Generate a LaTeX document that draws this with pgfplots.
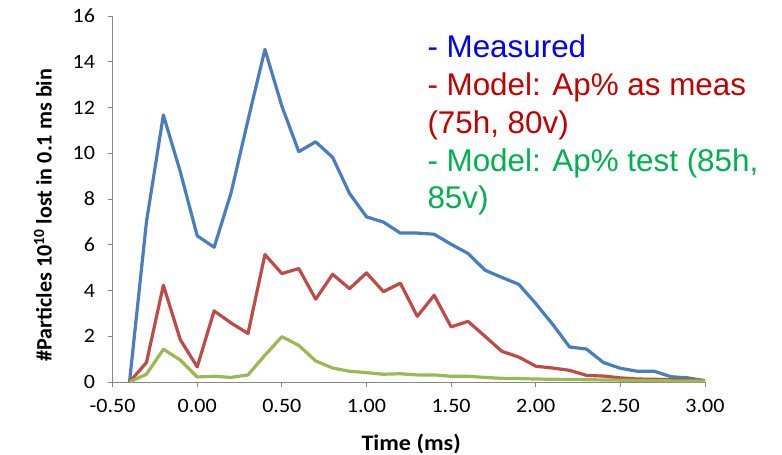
\documentclass[border=0pt]{standalone}
\usepackage{fontspec}
\setmainfont{Carlito}
\newfontfamily\ticksfont[FakeStretch=1.08]{Carlito}
\newfontfamily\xlabfont[FakeStretch=1.09]{Carlito}
\newfontfamily\arialfont{Liberation Sans}
\usepackage{pgfplots}
\pgfplotsset{compat=1.18}
\definecolor{serblue}{HTML}{4A7EBB}
\definecolor{serred}{HTML}{BE4B48}
\definecolor{sergreen}{HTML}{98B954}
\definecolor{axisgray}{HTML}{868686}
\definecolor{txtblue}{HTML}{0000FF}
\definecolor{txtred}{HTML}{C00000}
\definecolor{txtgreen}{HTML}{00B050}
\begin{document}
\begin{tikzpicture}
\useasboundingbox (-112.6bp,-73bp) rectangle (669.4bp,382bp);
\begin{axis}[
  at={(0,0)}, anchor=south west, scale only axis,
  width=592.4bp, height=366bp,
  xmin=-0.5, xmax=3, ymin=0, ymax=16,
  axis x line*=bottom, axis y line*=left,
  axis line style={draw=axisgray, line width=0.8bp},
  xtick={-0.5,0,0.5,1,1.5,2,2.5,3},
  xticklabels={-0.50,0.00,0.50,1.00,1.50,2.00,2.50,3.00},
  ytick={0,2,4,6,8,10,12,14,16},
  yticklabels={0,2,4,6,8,10,12,14,16},
  tick align=outside, major tick length=5bp,
  tick style={draw=axisgray, line width=0.8bp},
  ticklabel style={font=\ticksfont\fontsize{20.5}{24}\selectfont, text=black},
  xticklabel style={yshift=-9bp},
  yticklabel style={xshift=-9bp},
  xlabel={Time (ms)},
  ylabel={\#Particles 10\textsuperscript{10} lost in 0.1 ms bin},
  xlabel style={font=\xlabfont\bfseries\fontsize{22.2}{26}\selectfont, at={(axis description cs:0.504,-0.186)}, anchor=base},
  ylabel style={font=\bfseries\fontsize{22.2}{26}\selectfont, at={(axis description cs:-0.1031,0.456)}, anchor=base},
  clip=false,
  every axis plot/.append style={line width=3.2bp, line join=round, mark=none},
]
\addplot[serblue] coordinates {
(-0.4,0) (-0.3,7.0) (-0.2,11.67) (-0.1,9.19) (0.0,6.39) (0.1,5.89) (0.2,8.27) (0.3,11.45) (0.4,14.54) (0.5,12.06)
(0.6,10.07) (0.7,10.50) (0.8,9.82) (0.9,8.24) (1.0,7.22) (1.1,6.99) (1.2,6.51) (1.3,6.51) (1.4,6.46) (1.5,6.02)
(1.6,5.62) (1.7,4.89) (1.8,4.57) (1.9,4.27) (2.0,3.43) (2.1,2.52) (2.2,1.53) (2.3,1.44) (2.4,0.85) (2.5,0.60)
(2.6,0.47) (2.7,0.47) (2.8,0.23) (2.9,0.18) (3.0,0.05)};
\addplot[serred] coordinates {
(-0.4,0) (-0.3,0.85) (-0.2,4.23) (-0.1,1.85) (0.0,0.66) (0.1,3.11) (0.2,2.58) (0.3,2.12) (0.4,5.57) (0.5,4.74)
(0.6,4.96) (0.7,3.62) (0.8,4.71) (0.9,4.08) (1.0,4.77) (1.1,3.95) (1.2,4.32) (1.3,2.87) (1.4,3.79) (1.5,2.41)
(1.6,2.65) (1.7,2.0) (1.8,1.34) (1.9,1.09) (2.0,0.69) (2.1,0.61) (2.2,0.51) (2.3,0.29) (2.4,0.26) (2.5,0.18)
(2.6,0.13) (2.7,0.12) (2.8,0.10) (2.9,0.09) (3.0,0.07)};
\addplot[sergreen] coordinates {
(-0.4,0) (-0.3,0.34) (-0.2,1.43) (-0.1,0.96) (0.0,0.22) (0.1,0.25) (0.2,0.20) (0.3,0.31) (0.4,1.17) (0.5,1.98)
(0.6,1.60) (0.7,0.92) (0.8,0.61) (0.9,0.47) (1.0,0.41) (1.1,0.34) (1.2,0.36) (1.3,0.31) (1.4,0.31) (1.5,0.25)
(1.6,0.25) (1.7,0.20) (1.8,0.16) (1.9,0.15) (2.0,0.13) (2.1,0.12) (2.2,0.11) (2.3,0.10) (2.4,0.09) (2.5,0.08)
(2.6,0.07) (2.7,0.06) (2.8,0.05) (2.9,0.04) (3.0,0.04)};
\end{axis}
\begin{scope}[every node/.style={anchor=base west, inner sep=0pt, font=\arialfont\fontsize{31.5}{38}\selectfont}]
\node[text=txtblue] at (314.7bp,324bp) {- Measured};
\node[text=txtred] at (314.7bp,286bp) {- Model: Ap\% as meas};
\node[text=txtred] at (314.7bp,248bp) {(75h, 80v)};
\node[text=txtgreen] at (314.7bp,210bp) {- Model: Ap\% test (85h,};
\node[text=txtgreen] at (314.7bp,173bp) {85v)};
\end{scope}
\end{tikzpicture}
\end{document}
